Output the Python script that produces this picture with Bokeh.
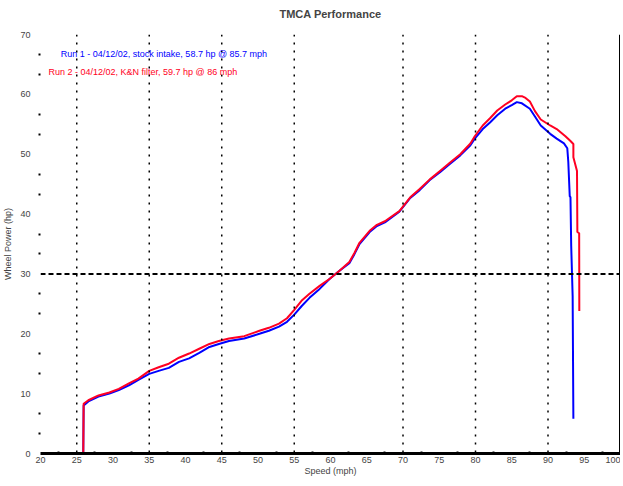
from bokeh.plotting import figure
from bokeh.models import Span, Label, FixedTicker, Range1d, Title
from bokeh.embed import file_html
from bokeh.resources import INLINE

# ---- data ----
x_ticks = [20, 25, 30, 35, 40, 45, 50, 55, 60, 65, 70, 75, 80, 85, 90, 95, 100]
y_ticks = [0, 10, 20, 30, 40, 50, 60, 70]
grid_x = [25, 35, 45, 55, 70, 80, 90]
ref_level = 30

run2_x = [21, 25.9, 25.95, 26.6, 28.0, 29.5, 30.8, 32.2, 33.5, 35.0, 36.3, 37.7, 39.1, 40.5,
          41.9, 43.3, 44.6, 46.0, 48.1, 50.2, 51.5, 52.9, 54.0, 55.0, 56.0, 57.1, 58.5, 59.9,
          61.2, 62.6, 63.3, 64.0, 65.4, 66.4, 67.5, 69.5, 71.0, 72.3, 73.7, 75.1, 76.5, 77.9,
          79.3, 79.9, 81.0, 82.0, 83.0, 84.1, 85.0, 85.7, 86.4, 86.9, 87.5, 88.2, 89.0, 90.3,
          91.2, 92.4, 93.1, 93.5, 93.5, 94.0, 94.05, 94.3, 94.32]
run2_y = [0, 0, 8.3, 8.9, 9.7, 10.2, 10.8, 11.7, 12.5, 13.8, 14.4, 15.0, 16.0, 16.7,
          17.5, 18.3, 18.8, 19.2, 19.6, 20.5, 21.0, 21.7, 22.6, 24.0, 25.5, 26.7, 28.0, 29.2,
          30.5, 32.0, 33.5, 35.2, 37.2, 38.2, 38.8, 40.5, 42.8, 44.2, 45.8, 47.2, 48.6, 50.0,
          51.8, 53.0, 54.8, 56.0, 57.3, 58.3, 59.0, 59.7, 59.7, 59.4, 58.8, 57.2, 55.8, 54.8,
          54.2, 53.0, 52.2, 51.7, 49.5, 47.2, 37.0, 36.8, 23.8]

run1_x = [21, 25.9, 25.95, 26.6, 28.0, 29.5, 30.8, 32.2, 33.5, 35.0, 36.3, 37.7, 39.1, 40.5,
          41.9, 43.3, 44.6, 46.0, 48.1, 50.2, 51.5, 52.9, 54.0, 55.0, 56.0, 57.1, 58.5, 59.9,
          61.2, 62.6, 63.3, 64.0, 65.4, 66.4, 67.5, 69.5, 71.0, 72.3, 73.7, 75.1, 76.5, 77.9,
          79.3, 79.9, 81.0, 82.0, 83.0, 84.1, 85.0, 85.7, 86.4, 87.5, 88.2, 89.0, 90.3, 91.2,
          92.2, 92.66, 92.8, 93.0, 93.1, 93.2, 93.4, 93.5]
run1_y = [0, 0, 8.0, 8.7, 9.5, 10.0, 10.6, 11.4, 12.3, 13.3, 13.8, 14.3, 15.3, 15.9,
          16.8, 17.8, 18.3, 18.8, 19.2, 20.0, 20.5, 21.2, 22.0, 23.2, 24.6, 26.0, 27.5, 29.2,
          30.5, 31.8, 33.3, 35.0, 37.0, 38.0, 38.6, 40.4, 42.7, 44.0, 45.7, 47.0, 48.4, 49.8,
          51.5, 52.6, 54.2, 55.3, 56.5, 57.6, 58.2, 58.7, 58.5, 57.6, 56.3, 54.8, 53.4, 52.6,
          51.8, 51.0, 48.7, 43.0, 42.8, 34.7, 26.3, 5.8]

run1_name = "Run 1 - 04/12/02, stock intake, 58.7 hp @ 85.7 mph"
run2_name = "Run 2 - 04/12/02, K&N filter, 59.7 hp @ 86 mph"
chart_title = "TMCA Performance"

FONT = "Liberation Sans"

p = figure(width=620, height=478, output_backend="svg", toolbar_location=None,
           x_range=Range1d(20, 100), y_range=Range1d(0, 70),
           min_border_left=34, min_border_right=0, min_border_top=0, min_border_bottom=0)
p.outline_line_color = None
p.background_fill_color = "white"
p.border_fill_color = "white"

# small spacer between title and frame, then the title itself
p.add_layout(Title(text=" ", text_font_size="1px", standoff=7), "above")
p.add_layout(Title(text=chart_title, align="center", text_font=FONT, text_font_size="11px",
                   text_font_style="bold"), "above")

p.xgrid.visible = False
p.ygrid.visible = False

xa = p.xaxis[0]
xa.ticker = FixedTicker(ticks=x_ticks, minor_ticks=[v + 2.5 for v in x_ticks[:-1]])
xa.axis_line_width = 3
xa.axis_line_color = "black"
xa.major_tick_in = 0
xa.major_tick_out = 0
xa.minor_tick_in = 2
xa.minor_tick_out = 0
xa.minor_tick_line_width = 2
xa.major_label_text_font = FONT
xa.major_label_text_font_size = "9px"
xa.major_label_standoff = 3
xa.axis_label = "Speed (mph)"
xa.axis_label_text_font = FONT
xa.axis_label_text_font_size = "9px"
xa.axis_label_text_font_style = "normal"
xa.axis_label_standoff = 0

ya = p.yaxis[0]
ya.ticker = FixedTicker(ticks=y_ticks,
                        minor_ticks=[v + d for v in y_ticks[:-1] for d in (10 / 3, 20 / 3)])
ya.axis_line_color = None
ya.major_tick_in = 0
ya.major_tick_out = 0
ya.minor_tick_in = 0
ya.minor_tick_out = 2
ya.minor_tick_line_width = 2
ya.major_label_text_font = FONT
ya.major_label_text_font_size = "9px"
ya.major_label_standoff = 8
ya.axis_label = "Wheel Power (hp)"
ya.axis_label_text_font = FONT
ya.axis_label_text_font_size = "9px"
ya.axis_label_text_font_style = "normal"
ya.axis_label_standoff = 4

# right-hand frame edge
p.add_layout(Span(location=100, dimension="height", line_color="black", line_width=3))

for gx in grid_x:
    p.add_layout(Span(location=gx, dimension="height", line_color="black",
                      line_width=1.5, line_dash="2 6"))
p.add_layout(Span(location=ref_level, dimension="width", line_color="black",
                  line_width=2, line_dash="5 3"))

p.line(run1_x, run1_y, line_color="#0000ff", line_width=2)
p.line(run2_x, run2_y, line_color="#ff0022", line_width=2)

p.add_layout(Label(x=22.8, y=66.7, text=run1_name, text_color="#0000ff",
                   text_font=FONT, text_font_size="9px", text_baseline="middle"))
p.add_layout(Label(x=21.1, y=63.7, text=run2_name, text_color="#ff0022",
                   text_font=FONT, text_font_size="9px", text_baseline="middle"))

open("out.html", "w").write(file_html(p, INLINE))
